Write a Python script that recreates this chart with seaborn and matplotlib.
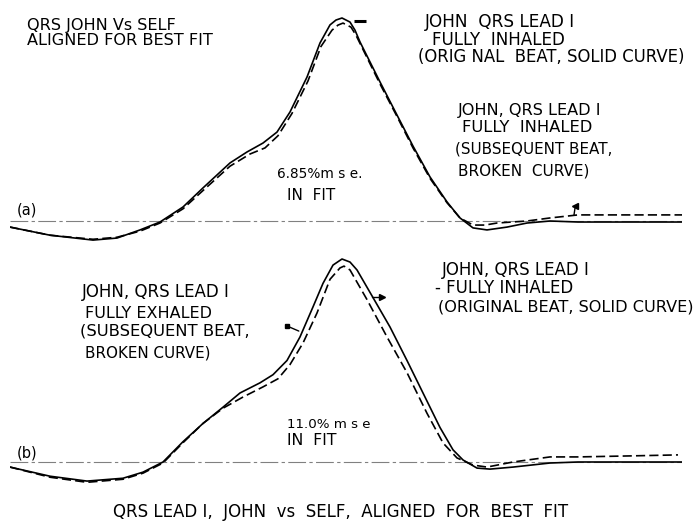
import numpy as np
import pandas as pd
import matplotlib
matplotlib.use("Agg")
import matplotlib.pyplot as plt
import seaborn as sns

sns.set_theme(style="white")
plt.rcParams['font.family'] = ['DejaVu Sans']

# ---------------- data (time in arbitrary units, amplitude normalised) -------------
t_a_solid = [0, 10, 20.75, 26.75, 32.5, 37.5, 43.25, 48.25, 55, 59.25, 63.25, 66.75, 70,
             74.25, 77.5, 80, 81.5, 83, 85, 86.25, 87.5, 92.5, 96.75, 100.75, 105, 109.25,
             112.5, 115.75, 119.25, 124.25, 129.25, 135, 142, 155, 168]
v_a_solid = [-0.03, -0.07, -0.094, -0.084, -0.044, -0.005, 0.069, 0.163, 0.286, 0.34,
             0.384, 0.438, 0.537, 0.709, 0.877, 0.966, 0.99, 1.0, 0.98, 0.94, 0.882,
             0.685, 0.522, 0.369, 0.217, 0.094, 0.015, -0.034, -0.044, -0.03, -0.01,
             0.0, -0.005, -0.005, -0.005]

t_a_broken = [0, 10, 20.75, 26.75, 32.5, 37.5, 43.25, 48.25, 55, 60, 63.75, 67, 70.5,
              74.5, 77.75, 80.5, 82, 83.25, 85.25, 86.5, 87.75, 92.5, 96.75, 100.75, 105,
              109.25, 112.5, 115.75, 118.75, 121.75, 129.25, 135, 142, 155, 168]
v_a_broken = [-0.03, -0.07, -0.09, -0.08, -0.05, -0.01, 0.06, 0.15, 0.27, 0.33, 0.36,
              0.42, 0.53, 0.69, 0.86, 0.94, 0.965, 0.975, 0.955, 0.915, 0.865, 0.675,
              0.515, 0.36, 0.21, 0.09, 0.015, -0.02, -0.02, -0.01, 0.0, 0.015, 0.03,
              0.03, 0.03]

t_b_solid = [0, 10, 19.25, 28.25, 33.25, 38.25, 43.25, 48.25, 53.25, 57.5, 62.5, 65.75,
             69.25, 72.5, 75.75, 78.25, 80.75, 83, 85, 86.75, 90.75, 95, 99.25, 103.25,
             107.5, 110.75, 113.25, 116.75, 120, 125.75, 135, 142, 155, 168]
v_b_solid = [-0.025, -0.07, -0.094, -0.08, -0.05, 0.0, 0.1, 0.19, 0.27, 0.34, 0.39, 0.43,
             0.5, 0.616, 0.764, 0.88, 0.97, 1.0, 0.985, 0.946, 0.81, 0.665, 0.5, 0.34,
             0.17, 0.06, 0.01, -0.03, -0.035, -0.025, -0.005, 0.0, 0.0, 0.0]

t_b_broken = [0, 10, 19.25, 28.25, 33.25, 38.25, 43.25, 48.25, 53.25, 58.25, 63.25, 67,
              70, 73.25, 76.75, 80, 82.5, 83.5, 85, 89.25, 94.25, 99.25, 104.25, 108.25,
              111.75, 115.75, 119.25, 125.75, 135, 142, 155, 167]
v_b_broken = [-0.025, -0.075, -0.1, -0.085, -0.055, -0.005, 0.095, 0.19, 0.265, 0.32,
              0.37, 0.41, 0.48, 0.586, 0.734, 0.9, 0.956, 0.965, 0.946, 0.8, 0.616, 0.44,
              0.24, 0.094, 0.02, -0.015, -0.025, 0.0, 0.025, 0.025, 0.03, 0.035]

beat_names = ["original", "subsequent"]


def frame(ts, vs):
    rows = []
    for name, t, v in zip(beat_names, ts, vs):
        rows.append(pd.DataFrame({"t": t, "v": v, "beat": name}))
    return pd.concat(rows, ignore_index=True)


df_a = frame([t_a_solid, t_a_broken], [v_a_solid, v_a_broken])
df_b = frame([t_b_solid, t_b_broken], [v_b_solid, v_b_broken])

# ---------------- layout -------------
W, H = 695, 524
fig = plt.figure(figsize=(W / 100, H / 100), dpi=100)
fig.patch.set_facecolor("white")

PX_PER_UNIT = 203.0
Y_LO, Y_HI = -0.25, 1.05
X_LO, X_HI = 0, 168
LEFT_PX, RIGHT_PX = 10, 682


def make_axes(baseline_px):
    top_px = baseline_px - Y_HI * PX_PER_UNIT
    bot_px = baseline_px - Y_LO * PX_PER_UNIT
    ax = fig.add_axes([LEFT_PX / W, 1 - bot_px / H, (RIGHT_PX - LEFT_PX) / W,
                       (bot_px - top_px) / H])
    ax.set_xlim(X_LO, X_HI)
    ax.set_ylim(Y_LO, Y_HI)
    ax.patch.set_alpha(0)
    ax.set_axis_off()
    return ax


ax_a = make_axes(221)
ax_b = make_axes(462)

dash_map = {"original": "", "subsequent": (5.5, 2.5)}
for ax, df in [(ax_a, df_a), (ax_b, df_b)]:
    # zero reference line
    ax.plot([0, 169.5], [0, 0], color="0.5", lw=0.8, dashes=(16, 3, 3, 3), zorder=1)
    sns.lineplot(data=df, x="t", y="v", style="beat", dashes=dash_map, color="black",
                 estimator=None, sort=True, legend=False, lw=1.2, ax=ax, zorder=3)
    for line in ax.get_lines():
        line.set_solid_joinstyle("round")
        line.set_dash_joinstyle("round")
    ax.set_xlabel("")
    ax.set_ylabel("")

# pointer marks
ax_a.plot([86, 89], [0.985, 0.985], color="black", lw=2.2, solid_capstyle="butt")
ax_a.plot([141, 141.3], [0.03, 0.07], color="black", lw=1.0)
ax_a.plot([141.3], [0.072], marker="<", color="black", ms=4.5)
ax_b.plot([69.25, 72.2], [0.67, 0.645], color="black", lw=1.0)
ax_b.plot([69.25], [0.672], marker="s", color="black", ms=2.5)
ax_b.plot([90.5, 93], [0.815, 0.815], color="black", lw=1.0)
ax_b.plot([93], [0.815], marker=">", color="black", ms=4)

# ---------------- text -------------


def label(x, y, s, size=11.6, **kw):
    fig.text(x / W, 1 - y / H, s, ha="left", va="baseline", fontsize=size,
             color="black", **kw)


label(27, 30, "QRS JOHN Vs SELF", 11.6)
label(27, 45, "ALIGNED FOR BEST FIT", 11.6)
label(17, 215, "(a)", 10.5)
label(277, 178, "6.85%m s e.", 9.8)
label(287, 200, "IN  FIT", 11.0)
label(425, 27, "JOHN  QRS LEAD I", 12.2)
label(432, 45, "FULLY  INHALED", 12.1)
label(418, 62, "(ORIG NAL  BEAT, SOLID CURVE)", 11.9)
label(458, 115, "JOHN, QRS LEAD I", 11.6)
label(462, 132, "FULLY  INHALED", 11.8)
label(455, 154, "(SUBSEQUENT BEAT,", 10.9)
label(458, 175, "BROKEN  CURVE)", 11.0)

label(82, 297, "JOHN, QRS LEAD I", 12.0)
label(85, 318, "FULLY EXHALED", 11.5)
label(80, 335, "(SUBSEQUENT BEAT,", 11.8)
label(85, 357, "BROKEN CURVE)", 10.9)
label(17, 457, "(b)", 10.5)
label(287, 428, "11.0% m s e", 9.6)
label(287, 445, "IN  FIT", 11.3)
label(442, 275, "JOHN, QRS LEAD I", 12.0)
label(435, 293, "- FULLY INHALED", 12.0)
label(438, 311, "(ORIGINAL BEAT, SOLID CURVE)", 11.6)

fig.text(341 / W, 1 - 517 / H, "QRS LEAD I,  JOHN  vs  SELF,  ALIGNED  FOR  BEST  FIT",
         ha="center", va="baseline", fontsize=12.0, color="black")

fig.savefig("out.png", dpi=100, facecolor="white")
